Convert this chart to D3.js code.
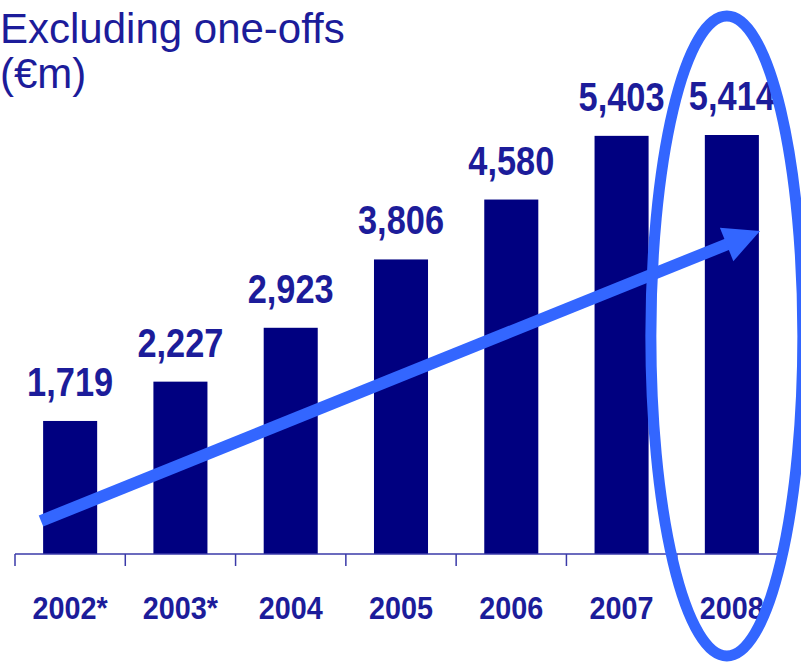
<!DOCTYPE html>
<html>
<head>
<meta charset="utf-8">
<script src="https://cdn.jsdelivr.net/npm/d3@7"></script>
<style>
  html, body { margin: 0; padding: 0; background: #fff; }
  svg { display: block; }
</style>
</head>
<body>
<svg id="chart" width="801" height="662"></svg>
<script>
// Underlying profit excluding one-offs, €m
const years = ["2002*", "2003*", "2004", "2005", "2006", "2007", "2008"];
const values = [1719, 2227, 2923, 3806, 4580, 5403, 5414];
const titleLines = ["Excluding one-offs", "(€m)"];
const highlightYear = "2008";

const W = 801, H = 662;
const baseY = 554;
const svg = d3.select("#chart");

const textColor = "#1c1c9a";
const barColor = "#000080";
const accent = "#3366ff";

const x = d3.scaleBand()
  .domain(years)
  .range([15, 787])
  .paddingInner(0.51)
  .paddingOuter(0.255);

const y = d3.scaleLinear()
  .domain([0, d3.max(values)])
  .range([baseY, 135]);

const fmt = d3.format(",");

// Title
svg.append("g")
  .selectAll("text")
  .data(titleLines)
  .join("text")
  .attr("x", 0)
  .attr("y", (d, i) => 43 + i * 45)
  .attr("font-family", "Liberation Sans, Arial, sans-serif")
  .attr("font-size", 42)
  .attr("fill", textColor)
  .text(d => d);

// Bars
svg.append("g")
  .selectAll("rect")
  .data(values)
  .join("rect")
  .attr("x", (d, i) => x(years[i]))
  .attr("y", d => y(d))
  .attr("width", x.bandwidth())
  .attr("height", d => baseY - y(d))
  .attr("fill", barColor);

// Value labels
svg.append("g")
  .selectAll("text")
  .data(values)
  .join("text")
  .attr("transform", (d, i) =>
    `translate(${x(years[i]) + x.bandwidth() / 2},${y(d) - 25}) scale(0.86,1)`)
  .attr("text-anchor", "middle")
  .attr("font-family", "Liberation Sans, Arial, sans-serif")
  .attr("font-weight", "bold")
  .attr("font-size", 40)
  .attr("fill", textColor)
  .text(d => fmt(d));

// Category axis: baseline with tick marks at band boundaries
const axisG = svg.append("g").attr("stroke", "#3a3aa8").attr("stroke-width", 1.5);
axisG.append("line")
  .attr("x1", 15).attr("x2", 783)
  .attr("y1", baseY).attr("y2", baseY);
axisG.selectAll("line.tick")
  .data(years)
  .join("line")
  .attr("class", "tick")
  .attr("x1", d => x(d) - x.step() * x.paddingInner() / 2)
  .attr("x2", d => x(d) - x.step() * x.paddingInner() / 2)
  .attr("y1", baseY)
  .attr("y2", baseY + 12);

svg.append("g")
  .selectAll("text")
  .data(years)
  .join("text")
  .attr("transform", d => `translate(${x(d) + x.bandwidth() / 2},619) scale(0.9,1)`)
  .attr("text-anchor", "middle")
  .attr("font-family", "Liberation Sans, Arial, sans-serif")
  .attr("font-weight", "bold")
  .attr("font-size", 32)
  .attr("fill", textColor)
  .text(d => d);

// Growth arrow
const start = [41, 521], tip = [760, 231];
const ang = Math.atan2(tip[1] - start[1], tip[0] - start[0]);
const headLen = 36, headHalf = 18;
const ux = Math.cos(ang), uy = Math.sin(ang);
const bx = tip[0] - ux * headLen, by = tip[1] - uy * headLen;
const arrow = svg.append("g");
arrow.append("line")
  .attr("x1", start[0]).attr("y1", start[1])
  .attr("x2", bx + ux * 4).attr("y2", by + uy * 4)
  .attr("stroke", accent)
  .attr("stroke-width", 12);
arrow.append("polygon")
  .attr("points", [
    tip,
    [bx - uy * headHalf, by + ux * headHalf],
    [bx + uy * headHalf, by - ux * headHalf]
  ].map(p => p.join(",")).join(" "))
  .attr("fill", accent);

// Highlight ring around the latest year
svg.append("ellipse")
  .attr("cx", x(highlightYear) + x.bandwidth() / 2 - 5)
  .attr("cy", 336)
  .attr("rx", 76)
  .attr("ry", 320)
  .attr("fill", "none")
  .attr("stroke", accent)
  .attr("stroke-width", 11);
</script>
</body>
</html>
